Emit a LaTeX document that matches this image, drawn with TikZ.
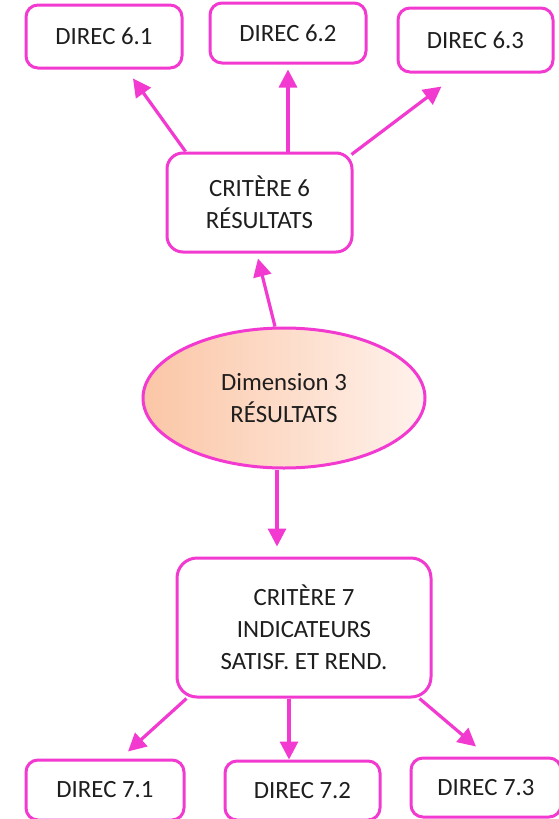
\documentclass[tikz,border=0pt]{standalone}
\usepackage{fontspec}
\setmainfont{Carlito}
\usetikzlibrary{arrows.meta,shapes.geometric}
\definecolor{rose}{RGB}{242,58,208}
\definecolor{peach}{RGB}{251,198,166}
\definecolor{peachlight}{RGB}{255,242,236}
\definecolor{ink}{RGB}{30,30,30}

\begin{document}
\begin{tikzpicture}[x=0.5pt, y=-0.5pt,
  direc/.style={draw=rose, line width=1.5pt, rounded corners=6pt, fill=white,
    text=ink, inner sep=0pt, font=\fontsize{12.4}{16}\selectfont},
  crit/.style={direc, align=center},
  dim/.style={ellipse, draw=rose, line width=1.5pt, left color=peach, right color=peachlight,
    text=ink, inner sep=0pt, align=center, font=\fontsize{12.4}{16}\selectfont},
  link/.style={draw=rose, line width=1.6pt, -{Triangle[length=9pt, width=9pt]}}]
  \useasboundingbox (0,0) rectangle (558,819);
  \node [direc, minimum width=78pt, minimum height=31.5pt] (d61) at (104,36.5) {DIREC 6.1};
  \node [direc, minimum width=78pt, minimum height=30pt] (d62) at (288,33) {DIREC 6.2};
  \node [direc, minimum width=77.5pt, minimum height=32pt] (d63) at (475.5,40) {DIREC 6.3};
  \node [crit, rounded corners=8pt, minimum width=92.5pt, minimum height=49.5pt] (c6) at (259.5,202.5) {CRITÈRE 6\\RÉSULTATS};
  \node [dim, minimum width=141pt, minimum height=70pt] (ell) at (284,398) {Dimension 3\\RÉSULTATS};
  \node [crit, rounded corners=10pt, minimum width=127pt, minimum height=69.5pt] (c7) at (304,627.5) {CRITÈRE 7\\INDICATEURS\\SATISF. ET REND.};
  \node [direc, minimum width=79pt, minimum height=30pt] (d71) at (105,790) {DIREC 7.1};
  \node [direc, minimum width=77.5pt, minimum height=29.5pt] (d72) at (302.5,790.5) {DIREC 7.2};
  \node [direc, minimum width=75pt, minimum height=29.5pt] (d73) at (486,787.5) {DIREC 7.3};
  \coordinate (ellfoot) at ([xshift=-3.5pt]ell.south);

  \draw [link] ([xshift=10pt]c6.north west) -- ([xshift=14.5pt, yshift=-4.5pt]d61.south);
  \draw [link, shorten >=2.5pt] (c6.north -| d62.south) -- (d62.south);
  \draw [link] ([xshift=-1pt, yshift=-1.5pt]c6.north east) -- ([xshift=-17pt, yshift=-6.5pt]d63.south);
  \draw [link] ([xshift=-4.5pt]ell.north) -- ([xshift=-0.75pt, yshift=-2.5pt]c6.south);
  \draw [link, shorten >=5pt] (ellfoot) -- (ellfoot |- c7.north);
  \draw [link] ([xshift=5.5pt]c7.south west) -- ([xshift=11.5pt, yshift=3.5pt]d71.north);
  \draw [link] ([xshift=-7.5pt]c7.south) -- ([xshift=-6.75pt]d72.north);
  \draw [link] ([xshift=-6.5pt]c7.south east) -- ([xshift=-5pt, yshift=5pt]d73.north);
\end{tikzpicture}
\end{document}
